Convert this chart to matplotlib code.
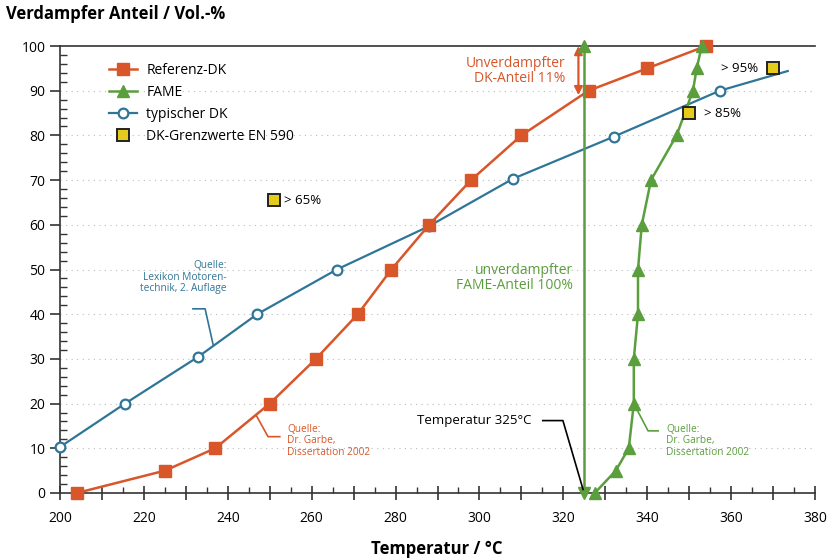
import matplotlib
matplotlib.use("Agg")
import matplotlib.pyplot as plt
from matplotlib.ticker import MultipleLocator, FuncFormatter

plt.rcParams['font.family'] = ['Open Sans', 'DejaVu Sans']

# data
ref_t = [204, 225, 237, 250, 261, 271, 279, 288, 298, 310, 326, 340, 354]
ref_v = [0, 5, 10, 20, 30, 40, 50, 60, 70, 80, 90, 95, 100]

fame_t = [327.5, 332.5, 335.6, 336.8, 336.8, 337.8, 337.8, 338.7, 340.9, 347, 350.9, 351.8, 353]
fame_v = [0, 5, 10, 20, 30, 40, 50, 60, 70, 80, 90, 95, 100]

typ_t = [200, 215.5, 233, 247, 266, 288, 308, 332, 357.3, 373.5]
typ_v = [10.3, 20, 30.5, 40, 50, 59.7, 70.3, 79.7, 90, 94.4]

lim_t = [251, 350, 370]
lim_v = [65.5, 85, 95]
lim_labels = ['> 65%', '> 85%', '> 95%']

t_fame_line = 325

orange = '#d9552a'
green = '#5b9e3d'
blue = '#2f7597'
yellow = '#e5cc1c'

fig = plt.figure(figsize=(8.31, 5.59), dpi=100)
ax = fig.add_axes([60 / 831, 66 / 559, 755 / 831, 447 / 559])
ax.set_xlim(200, 380)
ax.set_ylim(0, 100)

# grid
for y in range(10, 100, 10):
    ax.axhline(y, color='#bbbbbb', lw=0.8, ls=(0, (1, 4)), zorder=0)

# curves
ax.plot(typ_t, typ_v, color=blue, lw=1.6, marker='o', ms=7, mfc='white',
        mec=blue, mew=1.6, markevery=list(range(len(typ_t) - 1)),
        label='typischer DK', clip_on=False, zorder=3)
ax.plot(ref_t, ref_v, color=orange, lw=1.8, marker='s', ms=8,
        label='Referenz-DK', clip_on=False, zorder=4)
ax.plot(fame_t, fame_v, color=green, lw=1.8, marker='^', ms=8,
        label='FAME', clip_on=False, zorder=5)
ax.plot(lim_t, lim_v, ls='none', marker='s', ms=9, mfc=yellow, mec='#222222',
        mew=1.4, label='DK-Grenzwerte EN 590', zorder=6)

# vertical FAME line at 325 with arrow ends
ax.plot([t_fame_line, t_fame_line], [0, 100], color=green, lw=1.8, clip_on=False, zorder=5)
ax.plot([t_fame_line], [100], marker='^', ms=8, color=green, clip_on=False, zorder=6)
ax.plot([t_fame_line], [0], marker='v', ms=8, color=green, clip_on=False, zorder=6)

# orange double arrow (unverdampfter DK-Anteil 11 %)
ax.annotate('', xy=(323.6, 89), xytext=(323.6, 100),
            arrowprops=dict(arrowstyle='<|-|>', color=orange, lw=1.6,
                            mutation_scale=12, shrinkA=0, shrinkB=0))
ax.text(320.6, 94.4, 'Unverdampfter\nDK-Anteil 11%', color=orange, fontsize=10,
        ha='right', va='center', linespacing=1.0)
ax.text(322.3, 48.2, 'unverdampfter\nFAME-Anteil 100%', color=green, fontsize=10,
        ha='right', va='center', linespacing=1.0)

# limit labels
ax.text(253.4, lim_v[0], lim_labels[0], fontsize=9.5, va='center', ha='left')
ax.text(353.5, lim_v[1], lim_labels[1], fontsize=9.5, va='center', ha='left')
ax.text(366.4, lim_v[2], lim_labels[2], fontsize=9.5, va='center', ha='right')

# source notes with leaders
ax.text(239.8, 48.3, 'Quelle:\nLexikon Motoren-\ntechnik, 2. Auflage', color=blue,
        fontsize=7.3, ha='right', va='center', linespacing=1.05)
ax.plot([231.7, 234.6, 236.5], [41.2, 41.2, 33.2], color=blue, lw=1.2)

ax.text(254.1, 11.7, 'Quelle:\nDr. Garbe,\nDissertation 2002', color=orange,
        fontsize=7.3, ha='left', va='center', linespacing=1.05)
ax.plot([252.4, 249.6, 246.7], [12.6, 12.6, 17.5], color=orange, lw=1.2)

ax.text(344.5, 11.7, 'Quelle:\nDr. Garbe,\nDissertation 2002', color=green,
        fontsize=7.3, ha='left', va='center', linespacing=1.05)
ax.plot([342.6, 340.2, 336.8], [13.9, 13.9, 20], color=green, lw=1.2)

ax.text(312.5, 16.2, 'Temperatur 325°C', fontsize=9.5, ha='right', va='center')
ax.plot([315.1, 319.9, 324.7], [16.2, 16.2, 0.8], color='black', lw=1.2, zorder=6)

# axes styling
ax.spines['right'].set_visible(False)
for s in ['top', 'left', 'bottom']:
    ax.spines[s].set_color('#333333')
    ax.spines[s].set_linewidth(1.2)

ax.xaxis.set_major_locator(MultipleLocator(10))
ax.xaxis.set_major_formatter(FuncFormatter(lambda v, p: f'{v:.0f}' if v % 20 == 0 else ''))
ax.xaxis.set_minor_locator(MultipleLocator(5))
ax.yaxis.set_major_locator(MultipleLocator(10))
ax.yaxis.set_minor_locator(MultipleLocator(2))
ax.tick_params(axis='x', which='major', direction='inout', length=10, width=1.2,
               labelsize=10, pad=8, color='#333333')
ax.tick_params(axis='x', which='minor', direction='in', length=4, width=1.0,
               color='#333333')
ax.tick_params(axis='y', which='major', direction='out', length=7, width=1.2,
               labelsize=10, color='#333333')
ax.tick_params(axis='y', which='minor', direction='in', length=5, width=1.0,
               color='#333333')

fig.text(6 / 831, 1 - 14 / 559, 'Verdampfer Anteil / Vol.-%', fontsize=12,
         fontweight='bold', ha='left', va='center')
fig.text(437 / 831, 1 - 549 / 559, 'Temperatur / °C', fontsize=12,
         fontweight='bold', ha='center', va='center')

handles, labels = ax.get_legend_handles_labels()
order = [1, 2, 0, 3]
ax.legend([handles[i] for i in order], [labels[i] for i in order],
          loc='upper left', bbox_to_anchor=(0.048, 0.99), frameon=False,
          fontsize=10, handlelength=2.0, labelspacing=0.5, handletextpad=0.7)

fig.savefig('out.png', dpi=100)
